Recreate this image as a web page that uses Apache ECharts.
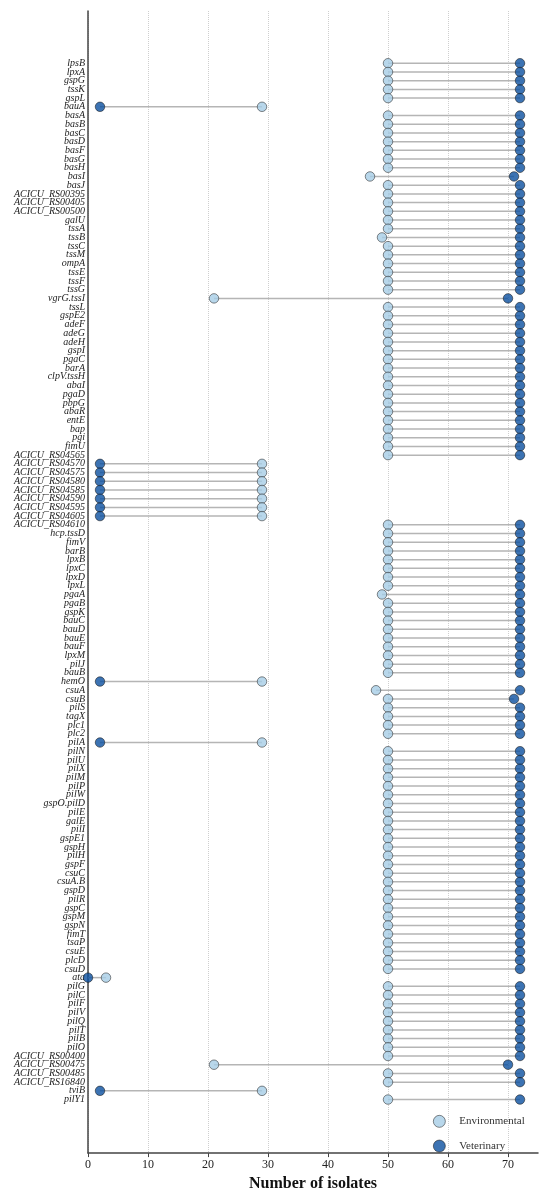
<!DOCTYPE html>
<html>
<head>
<meta charset="utf-8">
<script src="https://cdn.jsdelivr.net/npm/echarts@6/dist/echarts.min.js"></script>
<style>html,body{margin:0;padding:0;background:#fff}#c{width:550px;height:1197px}</style>
</head>
<body>
<div id="c"></div>
<script>
const categories = ["lpsB","lpxA","gspG","tssK","gspL","bauA","basA","basB","basC","basD","basF","basG","basH","basI","basJ","ACICU_RS00395","ACICU_RS00405","ACICU_RS00500","galU","tssA","tssB","tssC","tssM","ompA","tssE","tssF","tssG","vgrG.tssI","tssL","gspE2","adeF","adeG","adeH","gspI","pgaC","barA","clpV.tssH","abaI","pgaD","pbpG","abaR","entE","bap","pgi","fimU","ACICU_RS04565","ACICU_RS04570","ACICU_RS04575","ACICU_RS04580","ACICU_RS04585","ACICU_RS04590","ACICU_RS04595","ACICU_RS04605","ACICU_RS04610","hcp.tssD","fimV","barB","lpxB","lpxC","lpxD","lpxL","pgaA","pgaB","gspK","bauC","bauD","bauE","bauF","lpxM","pilJ","bauB","hemO","csuA","csuB","pilS","tagX","plc1","plc2","pilA","pilN","pilU","pilX","pilM","pilP","pilW","gspO.pilD","pilE","galE","pilI","gspE1","gspH","pilH","gspF","csuC","csuA.B","gspD","pilR","gspC","gspM","gspN","fimT","tsaP","csuE","plcD","csuD","ata","pilG","pilC","pilF","pilV","pilQ","pilT","pilB","pilO","ACICU_RS00400","ACICU_RS00475","ACICU_RS00485","ACICU_RS16840","tviB","pilY1"];

const environmental = [
50,50,50,50,50,29,50,50,50,50,
50,50,50,47,50,50,50,50,50,50,
49,50,50,50,50,50,50,21,50,50,
50,50,50,50,50,50,50,50,50,50,
50,50,50,50,50,50,29,29,29,29,
29,29,29,50,50,50,50,50,50,50,
50,49,50,50,50,50,50,50,50,50,
50,29,48,50,50,50,50,50,29,50,
50,50,50,50,50,50,50,50,50,50,
50,50,50,50,50,50,50,50,50,50,
50,50,50,50,50,3,50,50,50,50,
50,50,50,50,50,21,50,50,29,50];

const veterinary = [
72,72,72,72,72,2,72,72,72,72,
72,72,72,71,72,72,72,72,72,72,
72,72,72,72,72,72,72,70,72,72,
72,72,72,72,72,72,72,72,72,72,
72,72,72,72,72,72,2,2,2,2,
2,2,2,72,72,72,72,72,72,72,
72,72,72,72,72,72,72,72,72,72,
72,2,72,71,72,72,72,72,2,72,
72,72,72,72,72,72,72,72,72,72,
72,72,72,72,72,72,72,72,72,72,
72,72,72,72,72,0,72,72,72,72,
72,72,72,72,72,70,72,72,2,72];

const xTicks = [0,10,20,30,40,50,60,70];

const serif = 'Liberation Serif';
const chart = echarts.init(document.getElementById('c'), null, {renderer:'canvas'});

const segData = categories.map((c,i)=>[environmental[i], veterinary[i], i]);
const envData = environmental.map((v,i)=>[v,i]);
const vetData = veterinary.map((v,i)=>[v,i]);

chart.setOption({
  animation:false,
  backgroundColor:'#ffffff',
  grid:{left:88,right:12,top:11,bottom:42,containLabel:false},
  legend:{
    orient:'vertical', left:428, top:1110, itemWidth:30, itemHeight:12, itemGap:12,
    data:['Environmental','Veterinary'],
    itemStyle:{borderWidth:0.7},
    textStyle:{fontFamily:serif, fontSize:11, color:'#333'}
  },
  xAxis:{
    type:'value', min:0, max:75, interval:10,
    name:'Number of isolates', nameLocation:'middle', nameGap:19,
    nameTextStyle:{fontFamily:serif, fontSize:16, fontWeight:'bold', color:'#111'},
    axisLine:{show:true, onZero:false, lineStyle:{color:'#444', width:1.5}},
    axisTick:{show:true, length:4, lineStyle:{color:'#444'}, customValues:xTicks},
    axisLabel:{fontFamily:serif, fontSize:12, color:'#222', margin:6, customValues:xTicks},
    splitLine:{show:true, lineStyle:{type:'dotted', color:'#cfcfcf', width:1}}
  },
  yAxis:{
    type:'value', inverse:true, min:-6, max:125.15, interval:1,
    axisLine:{show:true, onZero:false, lineStyle:{color:'#444', width:1.5}},
    axisTick:{show:false},
    splitLine:{show:false},
    axisLabel:{
      fontFamily:serif, fontStyle:'italic', fontSize:10, color:'#222', margin:3,
      showMinLabel:true, showMaxLabel:true,
      formatter:function(v){
        const r = Math.round(v);
        if (Math.abs(v-r)>1e-6 || r<0 || r>=categories.length) return '';
        return categories[r];
      }
    }
  },
  series:[
    {
      type:'custom', name:'link', silent:true, z:1,
      renderItem:function(params, api){
        const a = api.coord([api.value(0), api.value(2)]);
        const b = api.coord([api.value(1), api.value(2)]);
        return {type:'line', shape:{x1:a[0],y1:a[1],x2:b[0],y2:b[1]},
          style:{stroke:'#b5b5b5', lineWidth:1.5}};
      },
      encode:{x:[0,1], y:2},
      data:segData
    },
    {
      type:'scatter', name:'Environmental', z:2, symbol:'circle', symbolSize:9.5,
      itemStyle:{color:'#a6cde6', borderColor:'#2a2a2a', borderWidth:0.7},
      data:envData
    },
    {
      type:'scatter', name:'Veterinary', z:3, symbol:'circle', symbolSize:9.5,
      itemStyle:{color:'#0b50a0', borderColor:'#1a1a1a', borderWidth:0.7},
      data:vetData
    }
  ]
});
</script>
</body>
</html>
